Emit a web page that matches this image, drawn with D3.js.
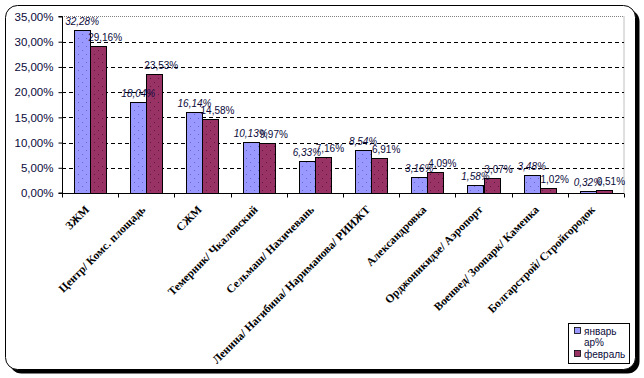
<!DOCTYPE html>
<html><head><meta charset="utf-8">
<script src="https://cdn.jsdelivr.net/npm/d3@7"></script>
<style>body{margin:0;background:#fff}svg{display:block}</style>
</head><body>
<svg id="c" width="644" height="378"></svg>
<script>
const categories = ["ЗЖМ","Центр/ Комс. площадь","СЖМ","Темерник/ Чкаловский","Сельмаш/ Нахичевань","Ленина/ Нагибина/ Нариманова/ РИИЖТ","Александровка","Орджоникидзе/ Аэропорт","Военвед/ Зоопарк/ Каменка","Болгарстрой/ Стройгородок"];
const seriesNames = ["январь","февраль"];
const january = [0.3228,0.1804,0.1614,0.1013,0.0633,0.0854,0.0316,0.0158,0.0348,0.0032];
const february = [0.2916,0.2353,0.1458,0.0997,0.0716,0.0691,0.0409,0.0307,0.0102,0.0051];
const yTicks = [0,0.05,0.10,0.15,0.20,0.25,0.30,0.35];
const legendExtra = "ар%";

const colors = ["#9999FF","#993366"];
const textColor = "#0a0a3a";
const svg = d3.select("#c");
const loc = d3.formatLocale({decimal:",",thousands:" ",grouping:[3],currency:["",""]});
const fmt = loc.format(".2%");

// frame with shadow
svg.append("rect").attr("x",9.5).attr("y",9.5).attr("width",630).attr("height",364).attr("rx",12).attr("fill","#000");
svg.append("rect").attr("x",5.5).attr("y",5.5).attr("width",630).attr("height",364).attr("rx",12).attr("fill","#fff").attr("stroke","#000").attr("stroke-width",1);

const defs = svg.append("defs");
colors.forEach((c,i)=>{
  const p = defs.append("pattern").attr("id","pat"+i).attr("patternUnits","userSpaceOnUse").attr("width",8).attr("height",8);
  p.append("rect").attr("width",8).attr("height",8).attr("fill",c);
  p.append("rect").attr("x",2).attr("y",2).attr("width",1).attr("height",1).attr("fill",i?"#5a1a3a":"#6666cc");
  p.append("rect").attr("x",6).attr("y",6).attr("width",1).attr("height",1).attr("fill",i?"#5a1a3a":"#6666cc");
});

const x0 = d3.scaleBand().domain(categories).range([62,624]).paddingInner(0.43).paddingOuter(0.215);
const x1 = d3.scaleBand().domain(seriesNames).range([0,x0.bandwidth()]);
const y = d3.scaleLinear().domain([0,0.35]).range([193,16.5]);

// plot area border (top/right gray dotted)
svg.append("path").attr("d",`M62,${y(0.35)}H624V${y(0)}`).attr("fill","none").attr("stroke","#808080").attr("stroke-dasharray","1,1");

// gridlines
svg.append("g").selectAll("line").data(yTicks.filter(t=>t>0 && t<0.35)).join("line")
  .attr("x1",62).attr("x2",624).attr("y1",d=>Math.round(y(d))+0.5).attr("y2",d=>Math.round(y(d))+0.5)
  .attr("stroke","#000").attr("stroke-dasharray","4,3");

// bars
const data = categories.map((c,i)=>({c, vals:[january[i],february[i]]}));
const g = svg.append("g");
data.forEach(d=>{
  d.vals.forEach((v,j)=>{
    const bx = x0(d.c)+x1(seriesNames[j]);
    g.append("rect").attr("x",Math.round(bx)+0.5).attr("y",Math.round(y(v))+0.5)
      .attr("width",Math.round(x1.bandwidth())).attr("height",Math.max(0,Math.round(y(0))-Math.round(y(v))))
      .attr("fill","url(#pat"+j+")").attr("stroke","#000").attr("stroke-width",1);
  });
});

// data labels
data.forEach(d=>{
  d.vals.forEach((v,j)=>{
    const cx = x0(d.c)+x1(seriesNames[j])+x1.bandwidth()/2 + (j?7:0);
    svg.append("text").attr("x",cx).attr("y",y(v)-5).attr("text-anchor","middle")
      .attr("font-family","Arial, Liberation Sans, sans-serif").attr("font-size","10px")
      .attr("font-style",j?"normal":"italic").attr("fill",textColor).text(fmt(v));
  });
});

// y axis
const ya = svg.append("g").attr("transform","translate(62.5,0)").call(d3.axisLeft(y).tickValues(yTicks).tickFormat(fmt).tickSize(4).tickPadding(5));
ya.select(".domain").attr("stroke","#000").attr("d",`M-4,${y(0.35)}H0V${y(0)}H-4`);
ya.selectAll(".tick line").attr("stroke","#000");
ya.selectAll("text").attr("font-family","Arial, Liberation Sans, sans-serif").attr("font-size","11.5px").attr("fill",textColor);

// x axis
const xa = svg.append("g").attr("transform",`translate(0,${Math.round(y(0))+0.5})`);
xa.append("line").attr("x1",62).attr("x2",624).attr("stroke","#000");
const edges = d3.range(categories.length+1).map(i=>62+i*x0.step());
xa.selectAll(".tk").data(edges).join("line").attr("x1",d=>Math.round(d)+0.5).attr("x2",d=>Math.round(d)+0.5).attr("y1",0).attr("y2",4).attr("stroke","#000");
xa.selectAll(".lbl").data(categories).join("text")
  .attr("transform",d=>`translate(${x0(d)+x0.bandwidth()/2-3},14) rotate(-45)`)
  .attr("text-anchor","end").attr("dy","0.35em")
  .attr("font-family","Liberation Serif, Times New Roman, serif").attr("font-weight","bold").attr("font-size","11.5px")
  .attr("fill","#000").text(d=>d);

// legend
const lg = svg.append("g");
lg.append("rect").attr("x",568.5).attr("y",323.5).attr("width",61).attr("height",40).attr("fill","#fff").attr("stroke","#000");
const ly = [331,354];
seriesNames.forEach((s,i)=>{
  lg.append("rect").attr("x",574.5).attr("y",ly[i]-3.5).attr("width",6).attr("height",6).attr("fill",colors[i]).attr("stroke","#000").attr("stroke-width",0.8);
  lg.append("text").attr("x",584).attr("y",ly[i]).attr("dy","0.35em").attr("font-family","Arial, Liberation Sans, sans-serif").attr("font-size","10px").attr("fill",textColor).text(s);
});
lg.append("text").attr("x",584).attr("y",342.5).attr("dy","0.35em").attr("font-family","Arial, Liberation Sans, sans-serif").attr("font-size","10px").attr("fill",textColor).text(legendExtra);
</script>
</body></html>
